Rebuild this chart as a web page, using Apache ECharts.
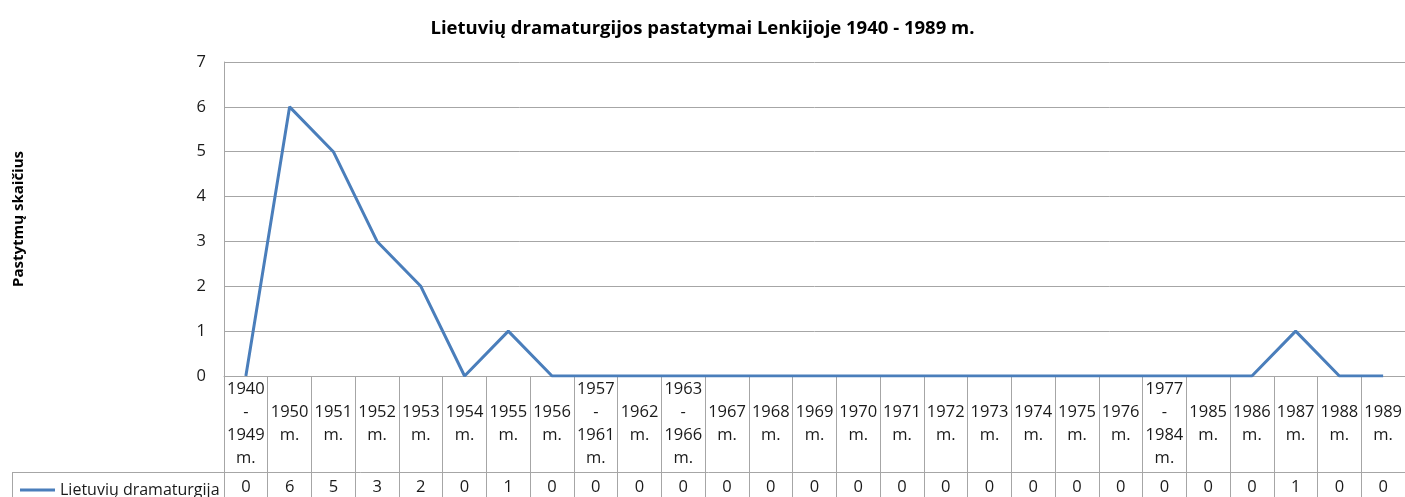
<!DOCTYPE html>
<html>
<head>
<meta charset="utf-8">
<title>Lietuvių dramaturgijos pastatymai</title>
<script src="https://cdn.jsdelivr.net/npm/echarts@6/dist/echarts.min.js"></script>
<style>
  html, body { margin: 0; padding: 0; background: #fff; }
  #chart { width: 1405px; height: 497px; }
</style>
</head>
<body>
<div id="chart"></div>
<script>
// periods, as written in the table header
const categories = [
  '1940\n-\n1949\nm.', '1950\nm.', '1951\nm.', '1952\nm.', '1953\nm.', '1954\nm.',
  '1955\nm.', '1956\nm.', '1957\n-\n1961\nm.', '1962\nm.', '1963\n-\n1966\nm.',
  '1967\nm.', '1968\nm.', '1969\nm.', '1970\nm.', '1971\nm.', '1972\nm.',
  '1973\nm.', '1974\nm.', '1975\nm.', '1976\nm.', '1977\n-\n1984\nm.',
  '1985\nm.', '1986\nm.', '1987\nm.', '1988\nm.', '1989\nm.'
]
const seriesName = 'Lietuvių dramaturgija'
const values = [0, 6, 5, 3, 2, 0, 1, 0, 0, 0, 0, 0, 0, 0, 0, 0, 0, 0, 0, 0, 0, 0, 0, 0, 1, 0, 0]

const font = '"Open Sans", Lato, sans-serif'
const gridColor = '#a6a6a6'
const textColor = '#1a1a1a'

const chart = echarts.init(document.getElementById('chart'))

chart.setOption({
  animation: false,
  textStyle: { fontFamily: font },
  title: {
    text: 'Lietuvių dramaturgijos pastatymai Lenkijoje 1940 - 1989 m.',
    left: 'center',
    top: 14,
    textStyle: { fontSize: 18.5, fontWeight: 'bold', color: '#000', fontFamily: font }
  },
  legend: {
    left: 15,
    top: 477,
    itemWidth: 35,
    itemHeight: 3,
    itemGap: 4,
    icon: 'rect',
    data: [seriesName],
    textStyle: { fontSize: 16, color: textColor, fontFamily: font }
  },
  grid: [
    { left: 224, top: 62, width: 1182, height: 314 },
    { left: 224, top: 472, width: 1182, height: 25 }
  ],
  xAxis: [
    {
      type: 'category',
      gridIndex: 0,
      data: categories,
      boundaryGap: true,
      axisLine: { lineStyle: { color: gridColor, width: 1 } },
      axisTick: { show: true, length: 121, lineStyle: { color: gridColor } },
      axisLabel: {
        interval: 0,
        margin: 48,
        verticalAlign: 'middle',
        lineHeight: 23,
        fontSize: 16.5,
        color: textColor
      }
    },
    {
      type: 'category',
      gridIndex: 1,
      data: categories,
      axisLine: { show: false },
      axisTick: { show: false },
      axisLabel: {
        interval: 0,
        inside: true,
        margin: 10,
        verticalAlign: 'middle',
        fontSize: 16.5,
        color: textColor,
        formatter: (v, i) => String(values[i])
      }
    }
  ],
  yAxis: [
    {
      type: 'value',
      gridIndex: 0,
      min: 0,
      max: 7,
      interval: 1,
      name: 'Pastytmų skaičius',
      nameLocation: 'middle',
      nameRotate: 90,
      nameGap: 198,
      nameTextStyle: { fontSize: 15, fontWeight: 'bold', color: '#000' },
      axisLine: { show: true, lineStyle: { color: gridColor } },
      axisTick: { show: false },
      axisLabel: { margin: 18, fontSize: 16.5, color: textColor },
      splitLine: { lineStyle: { color: gridColor, width: 1 } }
    },
    { type: 'value', gridIndex: 1, show: false }
  ],
  graphic: [
    {
      type: 'line',
      shape: { x1: 12, y1: 472.5, x2: 1405, y2: 472.5 },
      style: { stroke: gridColor, lineWidth: 1 }
    },
    {
      type: 'line',
      shape: { x1: 12.5, y1: 472, x2: 12.5, y2: 497 },
      style: { stroke: gridColor, lineWidth: 1 }
    }
  ],
  series: [
    {
      name: seriesName,
      type: 'line',
      xAxisIndex: 0,
      yAxisIndex: 0,
      data: values,
      showSymbol: false,
      symbol: 'none',
      lineStyle: { color: '#4a7ebb', width: 3 },
      itemStyle: { color: '#4a7ebb' }
    }
  ]
})
</script>
</body>
</html>
